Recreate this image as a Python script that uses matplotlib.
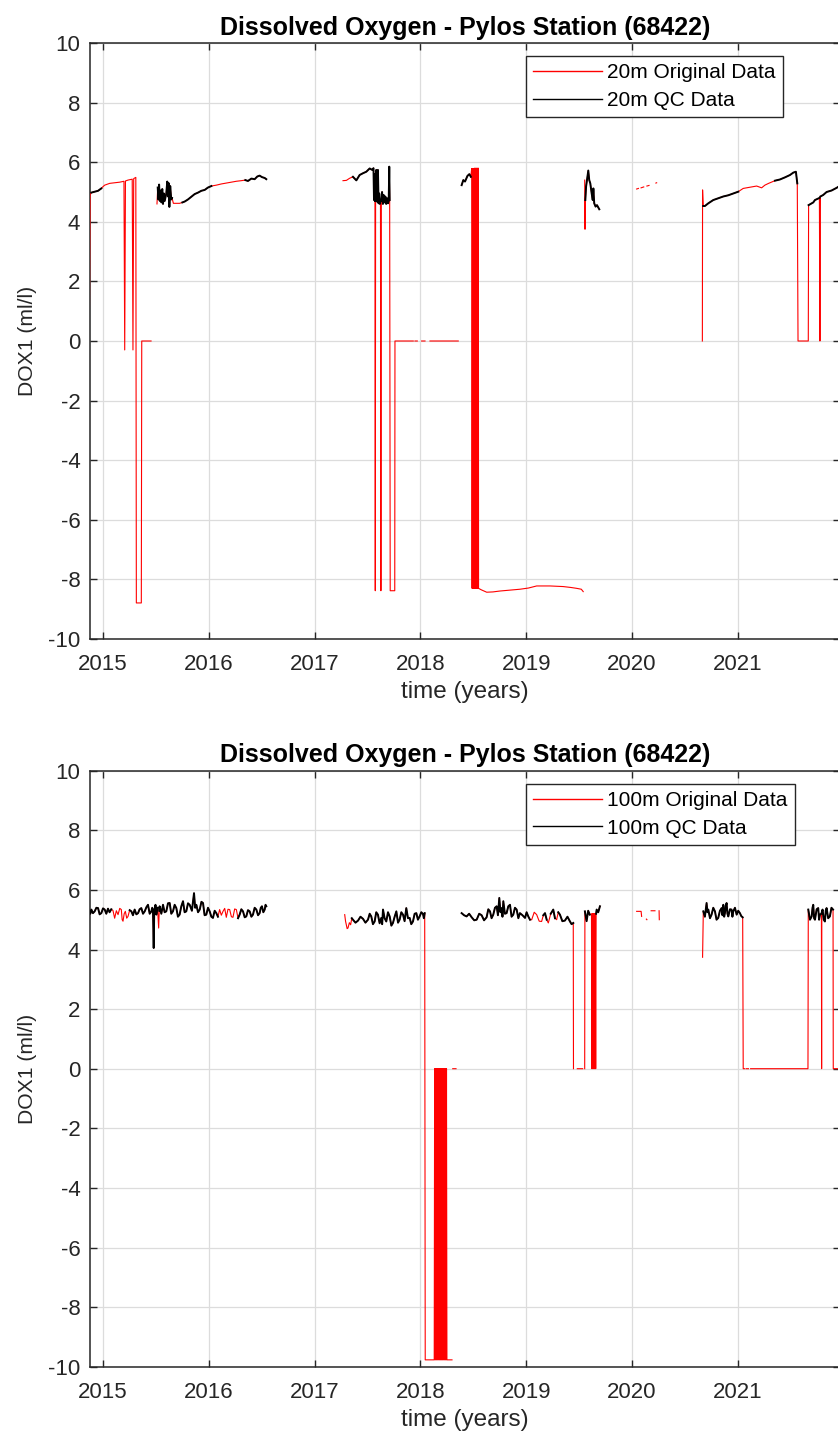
import matplotlib
matplotlib.use('Agg')
import matplotlib.pyplot as plt
import numpy as np

plt.rcParams['font.family'] = ['Liberation Sans', 'DejaVu Sans']

nan = float('nan')

# ---------------- 20 m sensor (decimal years, ml/l) ----------------
time_20m = [
    2014.870, 2014.878, 2014.890, 2014.921, 2014.953, 2014.984, 2015.000, 2015.016, 2015.063, 2015.110,
    2015.158, 2015.198, 2015.205, 2015.212, 2015.236, 2015.276, 2015.283, 2015.290, 2015.310, 2015.315,
    2015.362, 2015.366, 2015.454, nan,
    2015.510, 2015.517, 2015.523, 2015.530, 2015.537, 2015.545, 2015.552, 2015.560, 2015.567, 2015.575,
    2015.583, 2015.598, 2015.607, 2015.614, 2015.620, 2015.627, 2015.635, 2015.645, 2015.652, 2015.665,
    2015.693, 2015.724, 2015.750, 2015.772, 2015.803, 2015.835, 2015.866, 2015.898, 2015.929, 2015.961,
    2015.992, 2016.024, 2016.071, 2016.118, 2016.165, 2016.213, 2016.260, 2016.307, 2016.345, 2016.370,
    2016.402, 2016.433, 2016.458, 2016.480, 2016.502, 2016.528, 2016.543, nan,
    2017.268, 2017.300, 2017.330, 2017.362, 2017.394, 2017.425, 2017.457, 2017.488, 2017.520, 2017.545,
    2017.556, 2017.561, 2017.566, 2017.570, 2017.573, 2017.576, 2017.582, 2017.588, 2017.594, 2017.598,
    2017.604, 2017.610, 2017.616, 2017.622, 2017.626, 2017.630, 2017.637, 2017.645, 2017.652, 2017.660,
    2017.668, 2017.676, 2017.685, 2017.693, 2017.700, 2017.705, 2017.709, 2017.714, 2017.757, 2017.759,
    2017.932, nan, 2017.948, 2017.970, nan, 2018.011, 2018.043, nan, 2018.090, 2018.357, nan,
    2018.389, 2018.405, 2018.421, 2018.444, 2018.462, 2018.476, 2018.484, 2018.488, 2018.493, 2018.497,
    2018.502, 2018.506, 2018.511, 2018.515, 2018.520, 2018.524, 2018.529, 2018.533, 2018.538, 2018.542,
    2018.547, 2018.549, 2018.575, 2018.626, 2018.685, 2018.751, 2018.846, 2018.940, 2019.020, 2019.098,
    2019.224, 2019.347, 2019.420, 2019.476, 2019.520, 2019.538, nan,
    2019.552, 2019.555, 2019.558, 2019.565, 2019.575, 2019.586, 2019.595, 2019.605, 2019.618, 2019.628,
    2019.634, 2019.642, 2019.655, 2019.668, 2019.690, nan,
    2020.043, 2020.060, nan, 2020.085, 2020.110, nan, 2020.140, 2020.160, nan, 2020.225, 2020.232, nan,
    2020.664, 2020.666, 2020.672, 2020.688, 2020.720, 2020.767, 2020.814, 2020.862, 2020.909, 2020.956,
    2021.003, 2021.050, 2021.114, 2021.177, 2021.224, 2021.255, 2021.290, 2021.350, 2021.397, 2021.444,
    2021.492, 2021.523, 2021.548, 2021.561, 2021.568, 2021.665, 2021.668, 2021.712, 2021.728, 2021.770,
    2021.775, 2021.780, 2021.806, 2021.838, 2021.885, 2021.933, 2021.960,
]
dox_20m = [
    0.00, 4.90, 4.98, 5.01, 5.04, 5.12, 5.18, 5.23, 5.29, 5.31,
    5.33, 5.36, -0.30, 5.37, 5.40, 5.43, -0.30, 5.45, 5.49, -8.79,
    -8.79, 0.00, 0.00, nan,
    4.60, 5.15, 4.75, 5.25, 4.70, 5.05, 4.65, 5.10, 4.60, 4.95,
    4.70, 4.95, 5.35, 4.85, 5.30, 4.50, 5.20, 4.75, 4.80, 4.62,
    4.62, 4.62, 4.65, 4.68, 4.75, 4.84, 4.93, 4.98, 5.04, 5.07,
    5.15, 5.20, 5.23, 5.27, 5.30, 5.33, 5.36, 5.38, 5.40, 5.37,
    5.45, 5.43, 5.52, 5.55, 5.50, 5.47, 5.43, nan,
    5.38, 5.39, 5.46, 5.51, 5.39, 5.57, 5.63, 5.68, 5.79, 5.74,
    5.80, 4.73, 5.60, 4.70, -8.38, 4.70, 5.74, 4.68, 5.20, 5.74,
    4.62, 4.95, 4.60, 4.70, -8.38, 4.70, 5.00, 4.60, 4.90, 4.65,
    4.85, 4.60, 4.79, 4.62, 4.70, 5.85, 4.73, -8.38, -8.38, 0.00,
    0.00, nan, 0.00, 0.00, nan, 0.00, 0.00, nan, 0.00, 0.00, nan,
    5.23, 5.40, 5.35, 5.54, 5.60, 5.51, 5.79, -8.30, 5.79, -8.30,
    5.79, -8.30, 5.80, -8.30, 5.80, -8.30, 5.80, -8.30, 5.80, -8.30,
    5.80, -8.30, -8.35, -8.43, -8.42, -8.39, -8.36, -8.33, -8.29, -8.22,
    -8.22, -8.24, -8.27, -8.30, -8.33, -8.41, nan,
    5.40, 3.75, 4.73, 5.18, 5.45, 5.72, 5.40, 5.29, 4.95, 4.73,
    5.12, 4.62, 4.51, 4.56, 4.42, nan,
    5.10, 5.12, nan, 5.14, 5.17, nan, 5.20, 5.22, nan, 5.30, 5.31, nan,
    0.00, 5.07, 4.53, 4.53, 4.62, 4.73, 4.79, 4.85, 4.89, 4.95,
    5.01, 5.12, 5.16, 5.20, 5.14, 5.23, 5.29, 5.38, 5.42, 5.49,
    5.57, 5.65, 5.68, 5.29, 0.00, 0.00, 4.56, 4.65, 4.73, 4.80,
    0.00, 4.85, 4.90, 5.00, 5.05, 5.14, 5.20,
]
# time intervals rejected by quality control (20 m)
qc_rejected_20m = [
    (2014.86, 2014.880), (2014.995, 2015.46), (2015.505, 2015.513), (2015.66, 2015.73),
    (2016.06, 2016.33), (2017.26, 2017.34), (2017.572, 2017.574), (2017.625, 2017.627),
    (2017.712, 2018.36), (2018.480, 2019.54), (2019.550, 2019.556), (2020.0, 2020.3),
    (2020.66, 2020.667), (2021.02, 2021.30), (2021.565, 2021.666), (2021.773, 2021.777),
]

# ---------------- 100 m sensor ----------------
time_100m = [
    # 2014.9 - 2016.5
    2014.870, 2014.880, 2014.890, 2014.905, 2014.921, 2014.937, 2014.953, 2014.968, 2014.984, 2015.000,
    2015.016, 2015.031, 2015.047, 2015.062, 2015.078, 2015.094, 2015.110, 2015.126, 2015.142, 2015.158,
    2015.173, 2015.181, 2015.189, 2015.200, 2015.211, 2015.224, 2015.236, 2015.252, 2015.268, 2015.283,
    2015.299, 2015.315, 2015.331, 2015.346, 2015.362, 2015.378, 2015.394, 2015.410, 2015.425, 2015.441,
    2015.457, 2015.465, 2015.472, 2015.479, 2015.484, 2015.488, 2015.496, 2015.504, 2015.515, 2015.526,
    2015.531, 2015.535, 2015.551, 2015.567, 2015.582, 2015.598, 2015.614, 2015.630, 2015.645, 2015.661,
    2015.677, 2015.693, 2015.708, 2015.724, 2015.740, 2015.756, 2015.771, 2015.787, 2015.803, 2015.819,
    2015.840, 2015.860, 2015.871, 2015.882, 2015.898, 2015.914, 2015.930, 2015.945, 2015.960, 2015.976,
    2015.992, 2016.008, 2016.024, 2016.039, 2016.055, 2016.071, 2016.086, 2016.102, 2016.118, 2016.134,
    2016.150, 2016.165, 2016.181, 2016.197, 2016.213, 2016.228, 2016.244, 2016.260, 2016.276, 2016.291,
    2016.307, 2016.323, 2016.339, 2016.354, 2016.370, 2016.386, 2016.402, 2016.417, 2016.433, 2016.449,
    2016.465, 2016.480, 2016.491, 2016.502, 2016.515, 2016.528, 2016.536, 2016.543, nan,
    # 2017.3 - 2018.3
    2017.284, 2017.292, 2017.299, 2017.307, 2017.315, 2017.328, 2017.340, 2017.351, 2017.362, 2017.386,
    2017.410, 2017.433, 2017.457, 2017.480, 2017.504, 2017.520, 2017.535, 2017.551, 2017.567, 2017.582,
    2017.598, 2017.614, 2017.630, 2017.638, 2017.646, 2017.661, 2017.677, 2017.693, 2017.709, 2017.725,
    2017.740, 2017.756, 2017.772, 2017.788, 2017.803, 2017.819, 2017.835, 2017.850, 2017.866, 2017.882,
    2017.898, 2017.913, 2017.929, 2017.945, 2017.961, 2017.976, 2017.992, 2018.008, 2018.024, 2018.032,
    2018.040, 2018.045, 2018.130,
    2018.134, 2018.138, 2018.142, 2018.146, 2018.150, 2018.154, 2018.158, 2018.162, 2018.166, 2018.170,
    2018.174, 2018.178, 2018.182, 2018.186, 2018.190, 2018.194, 2018.198, 2018.202, 2018.206, 2018.210,
    2018.214, 2018.218, 2018.222, 2018.226, 2018.230, 2018.234, 2018.238, 2018.242, 2018.246, 2018.250,
    2018.298, nan, 2018.305, 2018.336, nan,
    # 2018.4 - 2019.7
    2018.389, 2018.412, 2018.436, 2018.460, 2018.484, 2018.508, 2018.531, 2018.555, 2018.578, 2018.601,
    2018.625, 2018.641, 2018.657, 2018.672, 2018.688, 2018.704, 2018.720, 2018.732, 2018.745, 2018.756,
    2018.767, 2018.775, 2018.783, 2018.798, 2018.814, 2018.830, 2018.846, 2018.861, 2018.877, 2018.893,
    2018.909, 2018.925, 2018.940, 2018.964, 2018.988, 2019.003, 2019.019, 2019.035, 2019.051, 2019.075,
    2019.098, 2019.122, 2019.145, 2019.161, 2019.177, 2019.193, 2019.208, 2019.231, 2019.255, 2019.271,
    2019.287, 2019.302, 2019.318, 2019.341, 2019.365, 2019.389, 2019.413, 2019.428, 2019.444, 2019.446,
    nan, 2019.482, 2019.533, nan,
    2019.552, 2019.554, 2019.570, 2019.585, 2019.600, 2019.616, 2019.620, 2019.625, 2019.629, 2019.634,
    2019.638, 2019.643, 2019.647, 2019.652, 2019.656, 2019.660, 2019.665, 2019.680, 2019.696, nan,
    # 2020
    2020.043, 2020.085, 2020.090, nan, 2020.135, 2020.140, nan, 2020.180, 2020.216, nan, 2020.255, 2020.257, nan,
    # 2020.7 - 2022
    2020.666, 2020.673, 2020.688, 2020.704, 2020.712, 2020.720, 2020.736, 2020.751, 2020.767, 2020.783,
    2020.798, 2020.814, 2020.830, 2020.846, 2020.854, 2020.862, 2020.870, 2020.877, 2020.885, 2020.893,
    2020.901, 2020.909, 2020.925, 2020.940, 2020.948, 2020.956, 2020.972, 2020.988, 2021.003, 2021.019,
    2021.032, 2021.045, 2021.050, 2021.065, nan, 2021.080, 2021.100, nan, 2021.120, 2021.662,
    2021.665, 2021.681, 2021.697, 2021.705, 2021.712, 2021.720, 2021.728, 2021.744, 2021.759, 2021.767,
    2021.775, 2021.789, 2021.791, 2021.793, 2021.800, 2021.811, 2021.822, 2021.830, 2021.838, 2021.853,
    2021.869, 2021.884, 2021.899, 2021.901, 2021.960,
]
dox_100m = [
    5.30, 5.20, 5.34, 5.22, 5.28, 5.40, 5.39, 5.18, 5.22, 5.38,
    5.34, 5.20, 5.37, 5.25, 5.35, 5.31, 5.05, 5.30, 5.17, 5.38,
    5.34, 5.00, 4.95, 5.20, 5.28, 5.05, 5.11, 5.32, 5.28, 5.15,
    5.34, 5.18, 5.22, 5.35, 5.39, 5.20, 5.28, 5.42, 5.50, 5.20,
    5.28, 5.40, 5.34, 4.05, 5.30, 5.34, 5.50, 5.17, 5.40, 4.72,
    5.30, 5.45, 5.20, 5.50, 5.25, 5.28, 5.55, 5.56, 5.20, 5.28,
    5.50, 5.39, 5.10, 5.17, 5.45, 5.62, 5.25, 5.28, 5.55, 5.50,
    5.30, 5.89, 5.40, 5.50, 5.25, 5.34, 5.60, 5.56, 5.15, 5.17,
    5.40, 5.28, 5.10, 5.06, 5.30, 5.22, 5.10, 5.34, 5.15, 5.28,
    5.38, 5.08, 5.35, 5.34, 5.10, 5.08, 5.36, 5.34, 5.05, 5.17,
    5.35, 5.28, 5.08, 5.11, 5.32, 5.28, 5.10, 5.17, 5.40, 5.34,
    5.15, 5.22, 5.40, 5.45, 5.25, 5.34, 5.50, 5.45, nan,
    5.17, 4.95, 4.83, 4.70, 4.72, 4.90, 4.83, 5.05, 5.00, 4.90,
    4.97, 5.10, 5.03, 4.90, 5.00, 5.20, 5.11, 4.85, 4.94, 5.25,
    5.17, 4.88, 5.06, 4.85, 5.34, 5.05, 4.94, 5.25, 5.11, 4.80,
    4.89, 5.10, 5.28, 4.90, 5.00, 5.25, 5.17, 4.95, 5.39, 5.05,
    5.06, 4.85, 4.94, 5.20, 5.22, 5.00, 5.11, 5.25, 5.19, 5.05,
    5.22, -9.77, -9.77,
    0.00, -9.77, 0.00, -9.77, 0.00, -9.77, 0.00, -9.77, 0.00, -9.77,
    0.00, -9.77, 0.00, -9.77, 0.00, -9.77, 0.00, -9.77, 0.00, -9.77,
    0.00, -9.77, 0.00, -9.77, 0.00, -9.77, 0.00, -9.77, 0.00, -9.77,
    -9.77, nan, 0.00, 0.00, nan,
    5.22, 5.15, 5.11, 5.20, 5.08, 4.98, 5.00, 5.20, 5.15, 4.98,
    5.08, 5.35, 5.28, 5.05, 5.17, 5.40, 5.45, 5.15, 5.73, 5.25,
    5.39, 5.10, 5.62, 5.20, 5.22, 5.45, 5.50, 5.10, 5.17, 5.40,
    5.34, 5.05, 5.22, 5.15, 5.06, 5.25, 5.11, 5.00, 5.00, 5.25,
    5.17, 4.95, 4.94, 5.15, 5.22, 5.00, 4.89, 5.20, 5.34, 5.05,
    5.00, 5.25, 5.17, 4.95, 4.97, 5.10, 4.94, 4.85, 4.89, 0.00,
    nan, 0.00, 0.00, nan,
    0.00, 5.28, 4.95, 5.30, 5.17, 5.20, 0.00, 5.20, 0.00, 5.20,
    0.00, 5.20, 0.00, 5.20, 0.00, 5.20, 5.34, 5.25, 5.45, nan,
    5.28, 5.28, 5.11, nan, 5.02, 5.00, nan, 5.30, 5.30, nan, 5.30, 5.00, nan,
    3.74, 5.28, 5.10, 5.56, 5.25, 5.34, 5.05, 5.17, 5.40, 5.28,
    5.00, 5.06, 5.30, 5.39, 5.15, 5.50, 5.10, 5.22, 5.45, 5.56,
    5.20, 5.11, 5.35, 5.34, 5.10, 5.28, 5.40, 5.17, 5.30, 5.22,
    5.12, 5.08, 0.00, 0.00, nan, 0.00, 0.00, nan, 0.00, 0.00,
    5.34, 5.00, 5.11, 5.40, 5.50, 5.05, 5.00, 5.35, 5.39, 5.00,
    5.17, 5.20, 0.00, 5.25, 5.34, 5.00, 4.94, 5.30, 5.39, 5.05,
    5.11, 5.40, 5.34, 0.00, 0.00,
]
qc_rejected_100m = [
    (2015.09, 2015.24), (2015.52, 2015.53), (2016.09, 2016.27), (2017.28, 2017.345),
    (2018.043, 2018.34), (2019.04, 2019.15), (2019.20, 2019.21), (2019.28, 2019.29),
    (2019.445, 2019.553), (2019.615, 2019.658), (2020.0, 2020.3), (2020.66, 2020.667),
    (2021.046, 2021.663), (2021.790, 2021.792), (2021.900, 2022.0),
]

year_ticks = [2015, 2016, 2017, 2018, 2019, 2020, 2021]
dox_ticks = [-10, -8, -6, -4, -2, 0, 2, 4, 6, 8, 10]
title_text = 'Dissolved Oxygen - Pylos Station (68422)'

W, H = 838, 1441
fig = plt.figure(figsize=(W / 100, H / 100), dpi=100)
fig.patch.set_facecolor('white')

AX_COLOR = '#262626'
left = 90 / W
width = 749.5 / W
height = 596 / H
panels = [
    (1 - 639 / H, time_20m, dox_20m, qc_rejected_20m, '20m'),
    (1 - 1366.7 / H, time_100m, dox_100m, qc_rejected_100m, '100m'),
]

for bottom, t, v, rejected, depth in panels:
    ax = fig.add_axes([left, bottom, width, height])
    t = np.array(t, dtype=float)
    v = np.array(v, dtype=float)
    bad = np.zeros(len(t), dtype=bool)
    for a, b in rejected:
        bad |= (t >= a) & (t <= b)
    qc = np.where(bad, np.nan, v)
    ax.plot(t, v, color='#ff0000', lw=0.8, label=f'{depth} Original Data', zorder=3)
    ax.plot(t, qc, color='black', lw=1.4, label=f'{depth} QC Data', zorder=4)

    ax.set_xlim(2014.877, 2021.96)
    ax.set_ylim(-10, 10)
    ax.set_xticks(year_ticks)
    ax.set_xticklabels([str(y) for y in year_ticks])
    ax.set_yticks(dox_ticks)
    ax.set_yticklabels([str(y) for y in dox_ticks])
    ax.grid(True, color='#dcdcdc', lw=0.9, zorder=0)
    ax.set_axisbelow(True)
    for s in ax.spines.values():
        s.set_color(AX_COLOR)
        s.set_linewidth(1.1)
    ax.tick_params(axis='both', direction='in', length=5, width=1.0, top=True, right=True,
                   labelsize=16, colors=AX_COLOR, labelcolor=AX_COLOR)
    ax.tick_params(axis='x', pad=11)
    ax.tick_params(axis='y', pad=7)
    ax.set_title(title_text, fontsize=18, fontweight='bold', color='black', pad=6)
    ax.set_xlabel('time (years)', fontsize=17.5, color=AX_COLOR, labelpad=4)
    ax.set_ylabel('DOX1 (ml/l)', fontsize=15.2, color=AX_COLOR, labelpad=8)

    leg = ax.legend(loc='upper left', bbox_to_anchor=(0.5817, 0.9782), borderaxespad=0,
                    fontsize=15, frameon=True, fancybox=False, framealpha=1,
                    edgecolor=AX_COLOR, handlelength=3.3, handletextpad=0.25,
                    borderpad=0.35, labelspacing=0.42)
    leg.get_frame().set_linewidth(1.0)
    for line in leg.get_lines():
        line.set_linewidth(1.0)

fig.savefig('out.png', dpi=100, facecolor='white')
